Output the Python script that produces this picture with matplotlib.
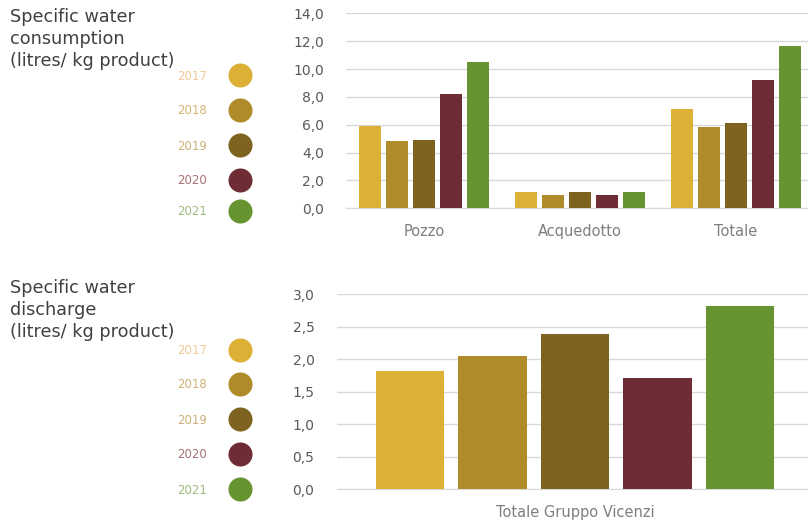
import numpy as np
import matplotlib
matplotlib.use("Agg")
import matplotlib.pyplot as plt

# data
years = ["2017", "2018", "2019", "2020", "2021"]
bar_colors = ["#DCB035", "#B08B2A", "#7E6220", "#6E2C34", "#679330"]
label_colors = ["#F2C999", "#D3B373", "#CDB07A", "#A97277", "#9DBA7C"]

consumption_cats = ["Pozzo", "Acquedotto", "Totale"]
consumption = {
    "2017": [5.93, 1.17, 7.13],
    "2018": [4.81, 0.95, 5.81],
    "2019": [4.93, 1.17, 6.10],
    "2020": [8.20, 0.95, 9.21],
    "2021": [10.50, 1.17, 11.65],
}
consumption_ticks = np.arange(0, 14.1, 2.0)

discharge_cats = ["Totale Gruppo Vicenzi"]
discharge = {
    "2017": [1.82],
    "2018": [2.05],
    "2019": [2.39],
    "2020": [1.71],
    "2021": [2.82],
}
discharge_ticks = np.arange(0, 3.01, 0.5)

titles = ["Specific water\nconsumption\n(litres/ kg product)",
          "Specific water\ndischarge\n(litres/ kg product)"]

plt.rcParams['font.family'] = ['DejaVu Sans']

fig = plt.figure(figsize=(8.08, 5.22), dpi=100)

slot = 0.173
width = 0.143
grid_col = "#D9D9D9"


def draw_bars(ax, cats, values, ticks, fmt):
    x = np.arange(len(cats))
    for i, yr in enumerate(years):
        ax.bar(x + (i - 2) * slot, values[yr], width=width, color=bar_colors[i],
               zorder=3)
    ax.set_xlim(-0.5, len(cats) - 0.5)
    ax.set_ylim(ticks[0], ticks[-1])
    ax.set_yticks(ticks)
    ax.set_yticklabels([fmt(t).replace(".", ",") for t in ticks])
    ax.set_xticks(x)
    ax.set_xticklabels(cats)
    ax.yaxis.grid(True, color=grid_col, lw=1.0, zorder=0)
    for s in ["left", "right", "top"]:
        ax.spines[s].set_visible(False)
    ax.spines["bottom"].set_color(grid_col)
    ax.tick_params(axis="y", length=0, pad=16, labelsize=10, labelcolor="#595959")
    ax.tick_params(axis="x", length=0, pad=11, labelsize=10.5, labelcolor="#7F7F7F")


ax1 = fig.add_axes([346 / 808, 1 - 208.3 / 522, 468 / 808, 195 / 522])
draw_bars(ax1, consumption_cats, consumption, consumption_ticks, lambda t: f"{t:.1f}")

ax2 = fig.add_axes([336.7 / 808, 1 - 489.3 / 522, 476.6 / 808, 195 / 522])
draw_bars(ax2, discharge_cats, discharge, discharge_ticks, lambda t: f"{t:.1f}")

# titles and legends on an overlay in pixel coordinates
ov = fig.add_axes([0, 0, 1, 1])
ov.set_xlim(0, 808)
ov.set_ylim(522, 0)
ov.axis("off")

ov.text(10, 8, titles[0], ha="left", va="top", fontsize=12.7, color="#404040",
        linespacing=1.3)
ov.text(10, 279, titles[1], ha="left", va="top", fontsize=12.7, color="#404040",
        linespacing=1.3)

leg_y = [[75, 110, 145, 180, 210.5], [350, 384, 419, 454, 489]]
for ys in leg_y:
    for i, yr in enumerate(years):
        ov.scatter(239.5, ys[i], s=300, color=bar_colors[i], lw=0)
        ov.text(207, ys[i] + 1, yr, ha="right", va="center", fontsize=8.5,
                color=label_colors[i])

fig.savefig("out.png", dpi=100)
